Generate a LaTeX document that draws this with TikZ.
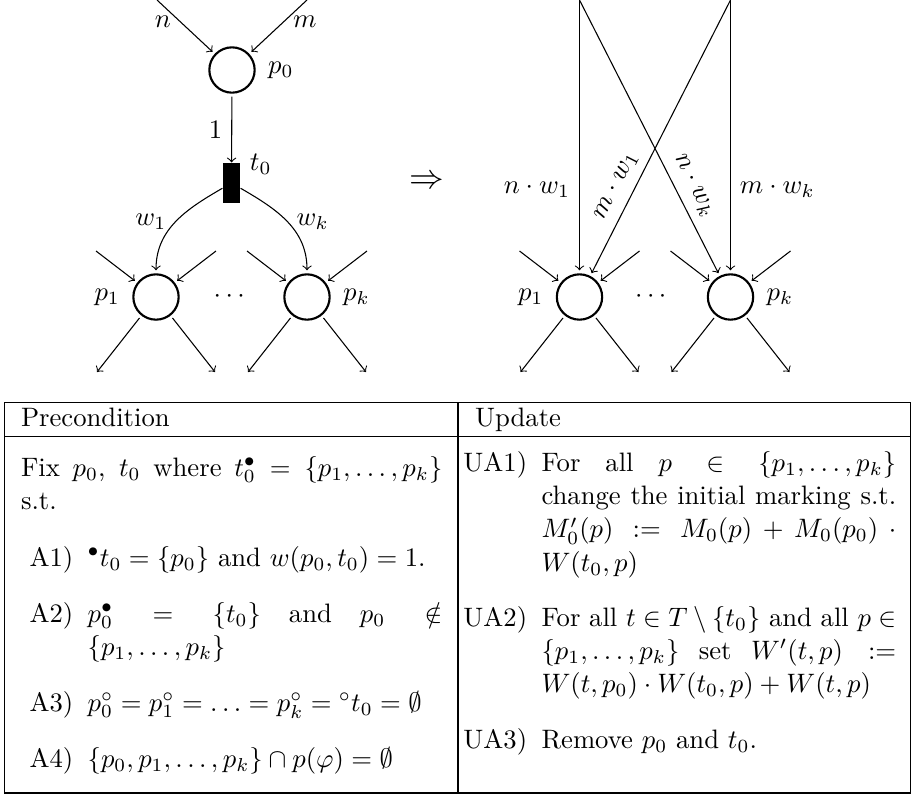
\documentclass[tikz,border=0pt]{standalone}
\usepackage{amsmath}
\usepackage{amssymb}
\usepackage{tikz}
\usetikzlibrary{calc,positioning}
\tikzset{
  netarc/.style={->, thin},
  place/.style={circle, draw, thick, minimum size=17pt, inner sep=0pt,
    outer sep=1.5pt, label distance=0.5pt},
  trans box/.style={rectangle, fill=black, minimum width=6.4pt,
    minimum height=15pt, inner sep=0pt},
  head text/.style={anchor=base west, inner sep=0pt},
  cell text/.style={anchor=base west, inner sep=0pt, text width=133pt,
    align=justify, font=\fontsize{10}{12.5}\selectfont},
  item label/.style={anchor=base east, inner sep=0pt},
  table rule/.style={line width=0.4pt}
}

\begin{document}
\begin{tikzpicture}[x=0.375pt, y=-0.375pt]
  \useasboundingbox (0,0) rectangle (912,797);
  % net before the reduction
  \node[place, label=right:$p_0$] (p0) at (232,70) {};
  \node[trans box, label={[yshift=7pt]right:$t_0$}] (t0) at (231.5,183) {};
  \node[place, label=left:$p_1$] (p1) at (156,297) {};
  \node[place, label=right:$p_k$] (pk) at (307,297) {};
  \node (dots1) at (231.5,297) {$\cdots$};
  \coordinate (inn) at (157,0);
  \coordinate (inm) at (307,0);
  \draw[netarc] (inn) -- node[pos=0.42, left] {$n$} (p0);
  \draw[netarc] (inm) -- node[pos=0.42, right] {$m$} (p0);
  \draw[netarc] (p0) -- node[left] {$1$} (t0);
  \draw[netarc] (t0) to[out=210, in=90] node[left] {$w_1$} (p1);
  \draw[netarc] (t0) to[out=-30, in=90] node[right] {$w_k$} (pk);

  \node[scale=1.3] (impl) at (427,182) {$\Rightarrow$};

  % net after the reduction
  \node[place, label=left:$p_1$] (q1) at (579.5,297) {};
  \node[place, label=right:$p_k$] (qk) at (730.5,297) {};
  \node (dots2) at (653,297) {$\cdots$};
  \coordinate (top1) at (579.5,0);
  \coordinate (topk) at (730.5,0);
  \draw[netarc] (top1) -- node[pos=0.7, left] {$n\cdot w_1$} (q1);
  \draw[netarc] (topk) -- node[pos=0.7, right] {$m\cdot w_k$} (qk);
  \draw[netarc] (top1) -- node[pos=0.71, sloped, above] {$n\cdot w_k$} (qk);
  \draw[netarc] (topk) -- node[pos=0.71, sloped, above] {$m\cdot w_1$} (q1);

  % other arcs of p_1 ... p_k
  \foreach \pl in {p1,pk,q1,qk} {
    \coordinate (\pl-a) at ($(\pl)+(-60,-46)$);
    \coordinate (\pl-b) at ($(\pl)+(60,-46)$);
    \coordinate (\pl-c) at ($(\pl)+(-59,75)$);
    \coordinate (\pl-d) at ($(\pl)+(59,75)$);
    \draw[netarc] (\pl-a) -- (\pl);
    \draw[netarc] (\pl-b) -- (\pl);
    \draw[netarc] (\pl) -- (\pl-c);
    \draw[netarc] (\pl) -- (\pl-d);
  }

  % table
  \coordinate (tabnw) at (4.5,402.7);
  \coordinate (tabse) at (910.5,793);
  \draw[table rule] (tabnw) rectangle (tabse);
  \draw[table rule] (4.5,436.7) -- (910.5,436.7);
  \draw[table rule] (458,402.7) -- (458,793);
  \node[head text] (hpre) at (20.5,426.7) {Precondition};
  \node[head text] (hupd) at (474.5,426.7) {Update};

  \node[cell text, text width=158pt] (fix) at (20.5,476)
    {Fix $p_0$, $t_0$ where $t_0^\bullet = \{p_1,\ldots,p_k\}$\linebreak s.t.};
  \node[cell text] (a1) at (87.2,566)
    {${}^\bullet t_0 = \{p_0\}$ and $w(p_0,t_0) = 1$.};
  \node[cell text] (a2) at (87.2,622)
    {$p_0^\bullet = \{t_0\}$ and $p_0 \notin \penalty-10000 \{p_1,\ldots,p_k\}$};
  \node[cell text] (a3) at (87.2,711)
    {$p_0^\circ = p_1^\circ = \ldots = p_k^\circ = {}^\circ t_0 = \emptyset$};
  \node[cell text] (a4) at (87.2,767)
    {$\{p_0,p_1,\ldots,p_k\} \cap p(\varphi) = \emptyset$};
  \node[left=5pt of a1.base west, item label] {A1)};
  \node[left=5pt of a2.base west, item label] {A2)};
  \node[left=5pt of a3.base west, item label] {A3)};
  \node[left=5pt of a4.base west, item label] {A4)};

  \node[cell text] (ua1) at (541,471)
    {For all $p \in \{p_1,\ldots,p_k\}$\linebreak change the initial marking s.t.
     $M_0'(p) := M_0(p) + M_0(p_0) \cdot \penalty-10000 W(t_0,p)$};
  \node[cell text] (ua2) at (541,626)
    {For all $t \in T \setminus \{t_0\}$ and all $p \in \penalty-10000
     \{p_1,\ldots,p_k\}$ set $W'(t,p) := \penalty-10000
     W(t,p_0) \cdot W(t_0,p) + W(t,p)$};
  \node[cell text] (ua3) at (541,748) {Remove $p_0$ and $t_0$.};
  \node[left=5pt of ua1.base west, item label] {UA1)};
  \node[left=5pt of ua2.base west, item label] {UA2)};
  \node[left=5pt of ua3.base west, item label] {UA3)};
\end{tikzpicture}
\end{document}
